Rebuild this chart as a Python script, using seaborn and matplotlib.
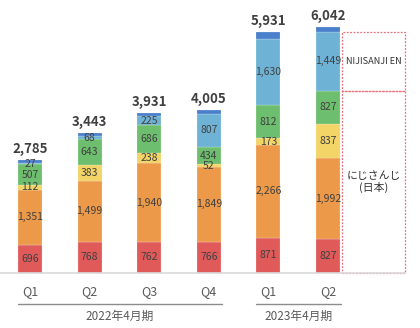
import matplotlib
matplotlib.use("Agg")
import matplotlib.pyplot as plt
import seaborn as sns
import numpy as np
import pandas as pd
from matplotlib.patches import Rectangle

sns.set_style("white")
plt.rcParams['font.family'] = ['Noto Sans CJK JP', 'DejaVu Sans']

quarters = ["Q1", "Q2", "Q3", "Q4", "Q1 ", "Q2 "]
tick_labels = ["Q1", "Q2", "Q3", "Q4", "Q1", "Q2"]
totals = [2785, 3443, 3931, 4005, 5931, 6042]
red = [696, 768, 762, 766, 871, 827]
orange = [1351, 1499, 1940, 1849, 2266, 1992]
yellow = [112, 383, 238, 52, 173, 837]
green = [507, 643, 686, 434, 812, 827]
lightblue = [27, 68, 225, 807, 1630, 1449]
groups = ["2022年4月期", "2023年4月期"]
group_spans = [(0, 3), (4, 5)]
box_labels = ["NIJISANJI EN", "にじさんじ\n(日本)"]

series = [red, orange, yellow, green, lightblue]
darkblue = [t - sum(s[i] for s in series) for i, t in enumerate(totals)]
all_series = series + [darkblue]
colors = ["#E05A5A", "#EC9A4A", "#F2D566", "#6DBE6E", "#6EB3D6", "#4A7FCB"]
show_labels = [True, True, True, True, True, False]

fig = plt.figure(figsize=(4.2, 3.28), dpi=100)
ax = fig.add_axes([0, 55 / 328, 1, 273 / 328])

bottom = np.zeros(len(quarters))
for vals, col, lab in zip(all_series, colors, show_labels):
    df = pd.DataFrame({"q": quarters, "v": vals})
    sns.barplot(data=df, x="q", y="v", order=quarters, color=col, width=0.4,
                bottom=bottom.copy(), ax=ax, saturation=1, edgecolor="#FAFAFA",
                linewidth=0.15, err_kws={"linewidth": 0})
    if lab:
        for i, v in enumerate(vals):
            ax.text(i, bottom[i] + v / 2, f"{v:,}", ha="center", va="center",
                    fontsize=7.5, color="#404040")
    bottom += np.array(vals)

for i, t in enumerate(totals):
    ax.text(i, t + 90, f"{t:,}", ha="center", va="bottom", fontsize=9.5,
            fontweight="bold", color="#404040")

px_per_unit = 59.6
xl = -30 / px_per_unit
xr = (420 - 30) / px_per_unit
ax.set_xlim(xl, xr)
ax.set_ylim(0, 273 / 0.0407)
ax.axis("off")


def px2data_y(py):
    return (273 - py) / 0.0407


# baseline
ax.plot([xl, xr - 0.25], [0, 0], color="#D9D9D9", lw=1.2, clip_on=False)

# dashed boxes
bx0 = (342 - 30) / px_per_unit
bx1 = (405 - 30) / px_per_unit
last = len(totals) - 1
jp_top = red[last] + orange[last] + yellow[last] + green[last]
en_top = jp_top + lightblue[last]
for (y0, y1) in [(jp_top, en_top), (0, jp_top)]:
    ax.add_patch(Rectangle((bx0, y0), bx1 - bx0, y1 - y0, fill=False,
                           edgecolor="#E8707A", lw=0.9, ls=(0, (1.5, 1.2)),
                           clip_on=False))
yc_en = (jp_top + en_top) / 2
ax.text((bx0 + bx1) / 2, yc_en, box_labels[0], ha="center", va="center",
        fontsize=6.6, color="#333333")
ax.text((bx0 + bx1) / 2, px2data_y(182), box_labels[1], ha="center",
        va="center", fontsize=7.8, color="#333333", linespacing=1.15)

for i, lab in enumerate(tick_labels):
    ax.text(i, px2data_y(292), lab, ha="center", va="center", fontsize=9,
            color="#595959", clip_on=False)

for (a, b), g in zip(group_spans, groups):
    ax.plot([a - 0.2, b + 0.22], [px2data_y(304)] * 2, color="#8C8C8C", lw=1,
            clip_on=False)
    ax.text((a + b) / 2, px2data_y(316), g, ha="center", va="center",
            fontsize=8.5, color="#595959", clip_on=False)

fig.savefig("out.png", dpi=100)
